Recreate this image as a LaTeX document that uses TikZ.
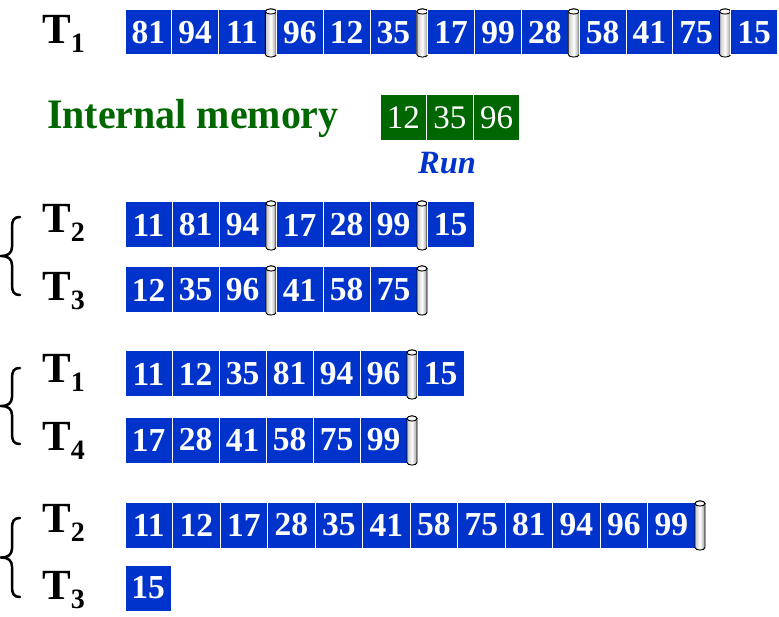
\documentclass[tikz,border=0pt]{standalone}
\usepackage{fontspec}
\setmainfont{Liberation Serif}
\newfontfamily\memfont[FakeStretch=0.95]{Liberation Serif}
\definecolor{cellblue}{RGB}{0,51,204}
\definecolor{memgreen}{RGB}{0,102,0}
\newcommand\numfont{\fontsize{33.5}{33.5}\selectfont\bfseries}
\newcommand\memnumfont{\fontsize{33}{33}\selectfont}
\newcommand\tapelabel[1]{{\fontsize{43}{43}\selectfont\bfseries T}\raisebox{-9pt}{\fontsize{28}{28}\selectfont\bfseries #1}}
\def\sepmark{s}
\def\cylw{10}
% cylinder separator: left x, top ellipse centre y, bottom arc centre y
\newcommand\cylsep[3]{%
  \pgfmathsetmacro\cxr{#1+\cylw}%
  \pgfmathsetmacro\cxm{#1+\cylw/2}%
  \pgfmathsetmacro\crad{\cylw/2}%
  \shade[left color=gray!45, right color=gray!80, middle color=white, draw=black, line width=0.9pt]
    (#1,#2) -- (#1,#3) arc[start angle=180, end angle=360, x radius=\crad pt, y radius=2.6pt]
    -- (\cxr,#2) arc[start angle=0, end angle=180, x radius=\crad pt, y radius=2.6pt] -- cycle;
  \draw[fill=gray!6, line width=0.9pt] (\cxm,#2) ellipse[x radius=\crad pt, y radius=2.6pt];
}
% tape row: #1 name, #2 cell style, #3 x0, #4 top y, #5 bottom y, #6 cell width, #7 list
\newcommand\tape[7]{%
  \xdef\tx{#3}%
  \foreach \v [count=\i] in {#7} {%
    \edef\cur{\v}%
    \ifx\cur\sepmark
      \pgfmathsetmacro\cyt{#4+1.5}%
      \pgfmathsetmacro\cyb{#5-0.5}%
      \cylsep{\tx}{\cyt}{\cyb}%
      \pgfmathsetmacro\nx{\tx+\cylw}%
      \xdef\tx{\nx}%
    \else
      \node[cell, #2, minimum width=#6pt, minimum height={(#5)-(#4)}] (#1-\i)
        at ({\tx+#6/2},{(#4+#5)/2}) {\v};
      \pgfmathsetmacro\nx{\tx+#6}%
      \xdef\tx{\nx}%
    \fi
  }%
}
\newcommand\bracepath[2]{% top y, bottom y
  \pgfmathsetmacro\bm{(#1+#2)/2}%
  \draw[line width=2.5pt, line cap=round]
    (20,#1) .. controls (14,#1) and (12,#1+3) .. (12,#1+10)
    -- (12,\bm-9) .. controls (12,\bm-3) and (8,\bm) .. (1.5,\bm)
    .. controls (8,\bm) and (12,\bm+3) .. (12,\bm+9)
    -- (12,#2-10) .. controls (12,#2-3) and (14,#2) .. (20,#2);
}
\tikzset{
  cell/.style={rectangle, draw=white, line width=1pt, inner sep=0pt, outer sep=0pt,
    text=white, font=\numfont},
  bluecell/.style={fill=cellblue},
  greencell/.style={fill=memgreen, font=\memnumfont},
  tlabel/.style={anchor=base west, inner sep=0pt, text=black}
}
\begin{document}
\begin{tikzpicture}[x=1pt, y=-1pt]
\useasboundingbox (0,0) rectangle (779,617);

% T1 (input tape)
\node[tlabel] (l1) at (42,44) {\tapelabel{1}};
\def\cylw{11}
\tape{ta}{bluecell}{125}{10}{55}{46.8}{81,94,11,s,96,12,35,s,17,99,28,s,58,41,75,s,15}

% internal memory
\node[anchor=base west, inner sep=0pt, text=memgreen, font={\memfont\fontsize{42}{42}\selectfont\bfseries}] (mem) at (47,129) {Internal memory};
\tape{m}{greencell}{380}{95}{141}{46.6}{12,35,96}
\node[anchor=base west, inner sep=0pt, text=cellblue, font={\fontsize{32.5}{32.5}\selectfont\bfseries\itshape}] (run) at (418,174) {Run};

\def\cylw{10}
% group 1
\bracepath{217}{295}
\node[tlabel] (l2) at (42,233) {\tapelabel{2}};
\node[tlabel] (l3) at (42,301) {\tapelabel{3}};
\tape{tb}{bluecell}{125}{202}{248}{47}{11,81,94,s,17,28,99,s,15}
\tape{tc}{bluecell}{125}{267}{313}{47}{12,35,96,s,41,58,75,s}

% group 2
\bracepath{368}{444}
\node[tlabel] (l4) at (42,383) {\tapelabel{1}};
\node[tlabel] (l5) at (42,450) {\tapelabel{4}};
\tape{td}{bluecell}{125}{351}{397}{47}{11,12,35,81,94,96,s,15}
\tape{te}{bluecell}{125}{417}{463}{47}{17,28,41,58,75,99,s}

% group 3
\bracepath{518}{597}
\node[tlabel] (l6) at (42,532) {\tapelabel{2}};
\node[tlabel] (l7) at (42,599) {\tapelabel{3}};
\tape{tf}{bluecell}{125}{502}{548}{47.5}{11,12,17,28,35,41,58,75,81,94,96,99,s}
\tape{tg}{bluecell}{125}{565}{611}{46}{15}
\end{tikzpicture}
\end{document}
